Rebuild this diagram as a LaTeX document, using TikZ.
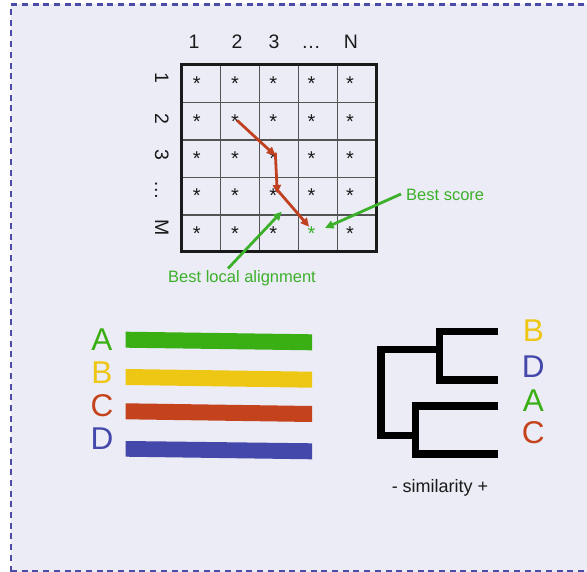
\documentclass[tikz,border=0pt]{standalone}
\usepackage{fontspec}
\setmainfont{Liberation Sans}
\usetikzlibrary{arrows.meta}
\definecolor{bg}{HTML}{ECECF6}
\definecolor{frame}{HTML}{4B4BA8}
\definecolor{cgreen}{HTML}{3AAF14}
\definecolor{cyellow}{HTML}{EEC614}
\definecolor{cred}{HTML}{C4421C}
\definecolor{cblue}{HTML}{4448AA}
\definecolor{agreen}{HTML}{3CB02A}
\definecolor{ared}{HTML}{C0401F}
\definecolor{ink}{HTML}{1A1A1A}
\tikzset{
  border/.style={draw=frame,line width=2.5pt,dash pattern=on 6pt off 4.7pt},
  gridline/.style={draw=ink!75,line width=1.4pt},
  gridouter/.style={draw=ink,line width=2.8pt},
  lbl/.style={font=\fontsize{19.5}{19.5}\selectfont,text=ink,inner sep=0pt,anchor=base},
  starlbl/.style={font=\fontsize{20}{20}\selectfont,text=ink,inner sep=0pt,anchor=base,yshift=-11pt},
  redarrow/.style={draw=ared,line width=2.8pt,-{Triangle[length=8.5pt,width=8pt]}},
  greenarrow/.style={draw=agreen,line width=2.8pt,-{Triangle[length=8.5pt,width=8pt]}},
  greenlbl/.style={font=\fontsize{16.5}{16.5}\selectfont,text=agreen,inner sep=0pt},
  bigletter/.style={font=\fontsize{31.5}{31.5}\selectfont,inner sep=0pt},
  tree/.style={draw=black,line width=7.5pt,line join=miter},
}
\begin{document}
\begin{tikzpicture}[x=1pt,y=-1pt]
\useasboundingbox (0,0) rectangle (587,572);
\begin{scope}
\clip (0,0) rectangle (587,572);
\fill[bg] (11,4.5) rectangle (600,571.5);
\draw[border] (11,571.5) -- (11,4.5) -- (600,4.5);
\draw[border] (11,571.5) -- (600,571.5);
\end{scope}
% grid
\foreach \x in {220.7,259.7,298.3,337.3} \draw[gridline] (\x,64.3) -- (\x,251.7);
\foreach \y in {102.7,140,177.7,215} \draw[gridline] (181.7,\y) -- (376.7,\y);
\draw[gridouter] (181.7,64.3) rectangle (376.7,251.7);
% column labels
\node[lbl] (c1) at (194,48.3) {1};
\node[lbl] (c2) at (237,48.3) {2};
\node[lbl] (c3) at (274,48.3) {3};
\node[lbl] (c4) at (311,48.3) {…};
\node[lbl] (c5) at (351,48.3) {N};
% row labels
\node[lbl,rotate=-90] (r1) at (155,78) {1};
\node[lbl,rotate=-90] (r2) at (155,119) {2};
\node[lbl,rotate=-90] (r3) at (155,155) {3};
\node[lbl,rotate=-90] (r4) at (155,190) {…};
\node[lbl,rotate=-90] (r5) at (155,228) {M};
% stars
\foreach \r in {1,...,5} {
  \foreach \c in {1,...,5} {
    \coordinate (p\r\c) at ({196.7+38.3*(\c-1)},{80+37.3*(\r-1)});
  }
}
\foreach \r in {1,...,5} {
  \foreach \c in {1,...,5} {
    \ifnum\r=5 \ifnum\c=4 \else \node[starlbl] (s\r\c) at (p\r\c) {*}; \fi
    \else \node[starlbl] (s\r\c) at (p\r\c) {*}; \fi
  }
}
\node[starlbl,text=agreen] (s54) at (p54) {*};
% red path
\draw[redarrow] ([xshift=2pt,yshift=-3pt]p22) -- ([xshift=2pt,yshift=-1pt]p33);
\draw[redarrow] ([xshift=2pt,yshift=2pt]p33) -- ([xshift=4pt,yshift=-1.5pt]p43);
\draw[redarrow] ([xshift=4pt,yshift=2pt]p43) -- ([xshift=-2.5pt,yshift=2.5pt]p54);
% green annotations
\node[greenlbl,anchor=west] (bs) at (406,195) {Best score};
\node[greenlbl] (bla) at (242,278) {Best local alignment};
\coordinate (bsend) at (325,228);
\coordinate (blaend) at (281.7,211.7);
\draw[greenarrow] ([xshift=-5pt,yshift=1pt]bs.west) -- (bsend);
\draw[greenarrow] (228,268.5) -- (blaend);
% bars
\fill[cgreen] (125.7,331.7) -- (312,334.3) -- (312,350.3) -- (125.7,347.7) -- cycle;
\fill[cyellow] (125.7,369) -- (312,371.7) -- (312,387.7) -- (125.7,385) -- cycle;
\fill[cred] (125.7,403.3) -- (312,406) -- (312,422) -- (125.7,419.3) -- cycle;
\fill[cblue] (125.7,441) -- (312,443.3) -- (312,459.3) -- (125.7,456.7) -- cycle;
\node[bigletter,text=cgreen] (la) at (102,340) {A};
\node[bigletter,text=cyellow] (lb) at (102,372.3) {B};
\node[bigletter,text=cred] (lc) at (102,405.3) {C};
\node[bigletter,text=cblue] (ld) at (102,438.3) {D};
% dendrogram
\draw[tree] (498.3,331.3) -- (439.7,331.3) -- (439.7,380) -- (498.3,380);
\draw[tree] (439.7,349.7) -- (381,349.7) -- (381,435.5) -- (418,435.5);
\draw[tree] (498.3,406) -- (415.5,406) -- (415.5,453.8) -- (498.3,453.8);
\node[bigletter,text=cyellow] (tb) at (533.3,330.7) {B};
\node[bigletter,text=cblue] (td) at (533.3,366.7) {D};
\node[bigletter,text=cgreen] (ta) at (533.3,400.7) {A};
\node[bigletter,text=cred] (tc) at (533.3,432.3) {C};
\node[font=\fontsize{18}{18}\selectfont,text=ink,inner sep=0pt] (sim) at (440,488) {- similarity +};
\end{tikzpicture}
\end{document}
